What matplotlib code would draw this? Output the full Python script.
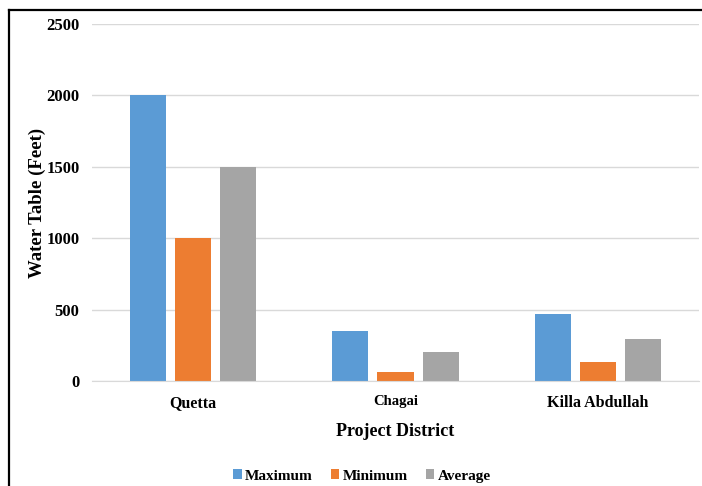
import matplotlib
matplotlib.use("Agg")
import matplotlib.pyplot as plt
from matplotlib.lines import Line2D
import numpy as np

districts = ["Quetta", "Chagai", "Killa Abdullah"]
maximum = [2000, 350, 470]
minimum = [1000, 60, 130]
average = [1500, 205, 295]
series_names = ["Maximum", "Minimum", "Average"]
colors = ["#5B9BD5", "#ED7D31", "#A5A5A5"]
y_ticks = [0, 500, 1000, 1500, 2000, 2500]

plt.rcParams["font.family"] = ["Liberation Serif", "DejaVu Serif"]
plt.rcParams["font.weight"] = "bold"

W, H = 702, 486
fig = plt.figure(figsize=(W / 100, H / 100), dpi=100)
ax = fig.add_axes([92 / W, (H - 381) / H, (699 - 92) / W, (381 - 24) / H])

x = np.arange(len(districts))
bw = 0.178
step = 0.223
for i, (vals, name, c) in enumerate(zip([maximum, minimum, average], series_names, colors)):
    ax.bar(x + (i - 1) * step, vals, width=bw, color=c, label=name, zorder=3)

ax.set_xlim(-0.5, len(districts) - 0.5)
ax.set_ylim(0, 2500)
ax.set_yticks(y_ticks)
ax.set_yticklabels([str(v) for v in y_ticks], fontsize=12, fontweight="bold")
ax.yaxis.grid(True, color="#d9d9d9", linewidth=1, zorder=0)
ax.set_xticks(x)
ax.set_xticklabels(districts, fontweight="bold")
for lbl, fs in zip(ax.get_xticklabels(), [11.5, 10.5, 11.5]):
    lbl.set_fontsize(fs)
ax.tick_params(axis="both", length=0)
ax.tick_params(axis="y", pad=9)
ax.tick_params(axis="x", pad=10)
for side in ["top", "right", "left"]:
    ax.spines[side].set_visible(False)
ax.spines["bottom"].set_color("#d9d9d9")
ax.spines["bottom"].set_zorder(4)

ax.set_ylabel("Water Table (Feet)", fontsize=13.5, fontweight="bold", labelpad=0)
ax.set_xlabel("Project District", fontsize=13, fontweight="bold", labelpad=9)

fig.legend(loc="center", bbox_to_anchor=(362 / W, 1 - 476 / H), ncol=3,
           frameon=False, handlelength=0.55, handleheight=0.55, handletextpad=0.2,
           columnspacing=1.2, prop={"size": 11, "weight": "bold"})

# outer frame (left and top edges)
fig.add_artist(Line2D([9 / W, 9 / W], [0, 1 - 10 / H], color="black", linewidth=1.6,
                      transform=fig.transFigure))
fig.add_artist(Line2D([9 / W, 1], [1 - 10 / H, 1 - 10 / H], color="black", linewidth=1.6,
                      transform=fig.transFigure))

fig.savefig("out.png", dpi=100)
